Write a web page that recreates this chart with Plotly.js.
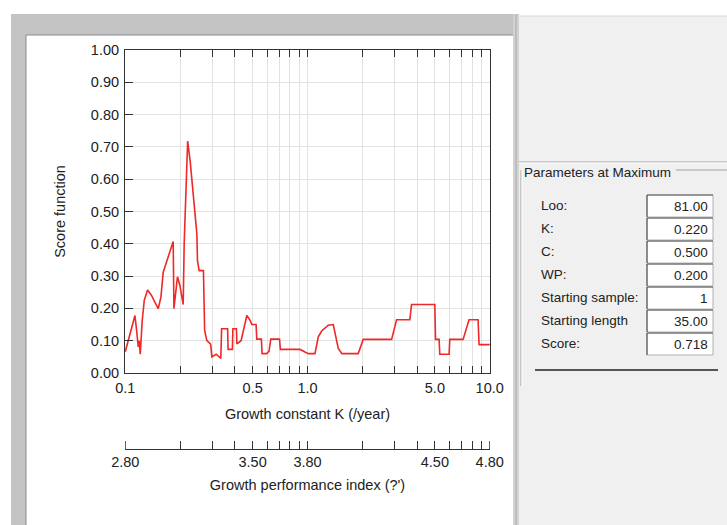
<!DOCTYPE html>
<html><head><meta charset="utf-8">
<script src="https://cdn.plot.ly/plotly-3.0.1.min.js"></script>
<style>html,body{margin:0;padding:0;background:#fff;overflow:hidden}#chart{width:727px;height:525px}</style>
</head><body><div id="chart"></div>
<script>
// ---- data ----
const kValues = [0.1,0.1065,0.113,0.1159,0.1178,0.1193,0.1208,0.1239,0.1271,0.1325,0.1393,0.1516,0.1569,0.1615,0.172,0.1832,0.1849,0.1887,0.1934,0.1994,0.2035,0.2079,0.2105,0.2145,0.22,0.2271,0.2367,0.2472,0.249,0.2544,0.2685,0.2726,0.2803,0.2941,0.2986,0.3153,0.3344,0.3378,0.3644,0.3667,0.3871,0.3896,0.4072,0.4098,0.4321,0.4645,0.4842,0.4947,0.5222,0.5268,0.5583,0.5633,0.5976,0.6152,0.6286,0.7025,0.7096,0.9098,0.969,1.01,1.099,1.146,1.196,1.3,1.385,1.475,1.545,1.898,2.022,2.894,3.083,3.645,3.724,4.996,5.041,5.275,5.321,5.984,6.037,7.141,7.701,8.63,8.74,10.0];
const scoreValues = [0.066,0.12,0.178,0.122,0.081,0.10,0.058,0.163,0.225,0.257,0.24,0.199,0.235,0.312,0.363,0.407,0.199,0.245,0.298,0.271,0.235,0.212,0.40,0.52,0.718,0.655,0.542,0.43,0.348,0.317,0.317,0.132,0.10,0.089,0.05,0.058,0.045,0.137,0.137,0.073,0.073,0.137,0.137,0.09,0.10,0.178,0.163,0.15,0.15,0.105,0.105,0.06,0.06,0.068,0.105,0.105,0.073,0.073,0.065,0.06,0.06,0.112,0.13,0.148,0.15,0.076,0.06,0.06,0.104,0.104,0.165,0.165,0.212,0.212,0.104,0.104,0.058,0.058,0.104,0.104,0.165,0.165,0.088,0.088];
const kTickVals = [0.1,0.2,0.3,0.4,0.5,0.6,0.7,0.8,0.9,1,2,3,4,5,6,7,8,9,10];
const kTickText = ['0.1','','','','0.5','','','','','1.0','','','','5.0','','','','','10.0'];
const phiTickText = ['2.80','','','','3.50','','','','','3.80','','','','4.50','','','','','4.80'];
const paramLabels = ['Loo:','K:','C:','WP:','Starting sample:','Starting length','Score:'];
const paramValues = ['81.00','0.220','0.500','0.200','1','35.00','0.718'];
const panelTitle = 'Parameters at Maximum';

// ---- geometry helpers (pixels -> paper) ----
const L=125, R=490, T=50, B=449;
const PW=R-L, PH=B-T;
const fx = px => (px-L)/PW;
const fy = py => (B-py)/PH;
const FONT = 'Liberation Sans, Arial, sans-serif';
const FS = 14.5, PFS = 13.5;

const shapes = [];
function rect(x0,y0,x1,y1,fill,line,lw,layer){
  shapes.push({type:'rect',xref:'paper',yref:'paper',x0:fx(x0),x1:fx(x1),y0:fy(y0),y1:fy(y1),
    fillcolor:fill,line:{color:line||fill,width:lw===undefined?0:lw},layer:layer||'below'});
}
function seg(x0,y0,x1,y1,color,w,layer){
  shapes.push({type:'line',xref:'paper',yref:'paper',x0:fx(x0),x1:fx(x1),y0:fy(y0),y1:fy(y1),
    line:{color:color,width:w||1},layer:layer||'below'});
}
// window frame
rect(11,14,515,35,'#c3c3c3');
rect(11,14,26,525,'#c3c3c3');
seg(26,35,515,35,'#8a8a8a',1);
seg(26,35,26,525,'#8a8a8a',1);
rect(513,14,519,525,'#d2d2d2');
seg(516,14,516,525,'#a8a8a8',1);
rect(519,16,727,525,'#f0f0f0');
seg(519,16,727,16,'#d8d8d8',1);
// group box
seg(519,162,727,162,'#a0a0a0',1,'above');
seg(519,163,727,163,'#ffffff',1,'above');
seg(521,170,521,386,'#a0a0a0',1,'above');
seg(522,170,522,386,'#ffffff',1,'above');
seg(676,170,727,170,'#a0a0a0',1,'above');
seg(535,370,718,370,'#555555',2,'above');
// end ticks of the lower (performance index) axis, placed through the x2 scale
[kTickVals[0], kTickVals[kTickVals.length-1]].forEach(v=>{
  shapes.push({type:'line',xref:'x2',yref:'paper',x0:v,x1:v,y0:0,y1:fy(441),
    line:{color:'#333',width:1},layer:'above'});
});

const annotations = [];
annotations.push({xref:'paper',yref:'paper',x:fx(522),y:fy(172),xanchor:'left',yanchor:'middle',
  text:panelTitle,showarrow:false,font:{family:FONT,size:PFS,color:'#222'}});
paramLabels.forEach((lab,i)=>{
  const top = 195+23*i;
  rect(647,top,713,top+22,'#ffffff','#b0b0b0',1,'above');
  seg(647,top,713,top,'#5a5a5a',1.2,'above');
  seg(647,top,647,top+22,'#5a5a5a',1.2,'above');
  annotations.push({xref:'paper',yref:'paper',x:fx(539),y:fy(top+10),xanchor:'left',yanchor:'middle',
    text:lab,showarrow:false,font:{family:FONT,size:PFS,color:'#222'}});
  annotations.push({xref:'paper',yref:'paper',x:fx(710),y:fy(top+11),xanchor:'right',yanchor:'middle',
    text:paramValues[i],showarrow:false,font:{family:FONT,size:PFS,color:'#222'}});
});

const traces = [
  {x:kValues,y:scoreValues,type:'scatter',mode:'lines',line:{color:'#f02828',width:1.6},
   hoverinfo:'x+y',showlegend:false},
  {x:[kTickVals[0],kTickVals[kTickVals.length-1]],y:[null,null],xaxis:'x2',yaxis:'y',type:'scatter',
   mode:'lines',hoverinfo:'skip',showlegend:false}
];

const EPS = 0.0015;
const layout = {
  width:727,height:525,
  margin:{l:L,r:727-R,t:T,b:525-B,pad:0},
  paper_bgcolor:'#ffffff',plot_bgcolor:'#ffffff',
  font:{family:FONT,size:FS,color:'#222'},
  showlegend:false,
  xaxis:{type:'log',range:[-1-EPS,1+EPS],tickmode:'array',tickvals:kTickVals,ticktext:kTickText,
    ticks:'inside',ticklen:7,tickcolor:'#333',showline:true,linecolor:'#333',linewidth:1,mirror:'ticks',
    showgrid:true,gridcolor:'#e2e2e2',gridwidth:1,zeroline:false,anchor:'y',
    tickfont:{size:FS},ticklabelstandoff:2,
    title:{text:'Growth constant K (/year)',font:{size:FS},standoff:13}},
  xaxis2:{type:'log',range:[-1-EPS,1+EPS],overlaying:'x',anchor:'free',position:0,side:'bottom',
    tickmode:'array',tickvals:kTickVals,ticktext:phiTickText,
    ticks:'inside',ticklen:8,tickcolor:'#333',showline:true,linecolor:'#333',linewidth:1,
    showgrid:false,zeroline:false,tickfont:{size:FS},ticklabelstandoff:0,
    title:{text:"Growth performance index (?')",font:{size:FS},standoff:10}},
  yaxis:{domain:[fy(373),1],range:[0,1],dtick:0.1,tick0:0,tickformat:'.2f',
    ticks:'inside',ticklen:8,tickcolor:'#333',showline:true,linecolor:'#333',linewidth:1,mirror:true,
    showgrid:true,gridcolor:'#e2e2e2',zeroline:false,tickfont:{size:FS},ticklabelstandoff:2,
    title:{text:'Score function',font:{size:FS},standoff:21}},
  shapes:shapes,
  annotations:annotations
};
Plotly.newPlot('chart',traces,layout,{staticPlot:true,displayModeBar:false});
</script></body></html>
